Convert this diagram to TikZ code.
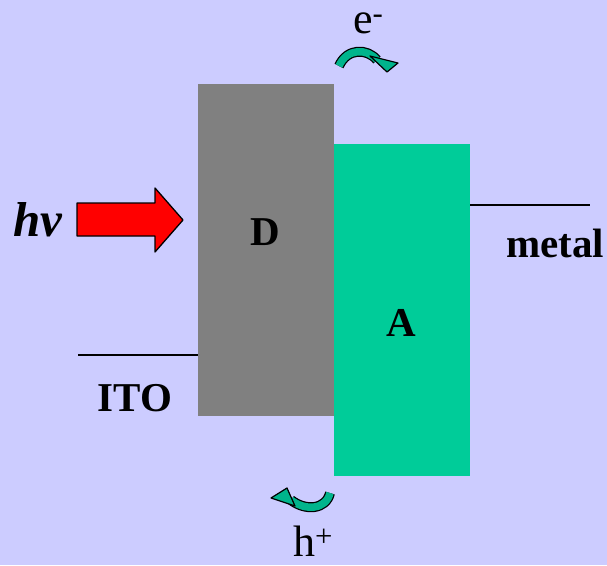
\documentclass[tikz,border=0pt]{standalone}
\usepackage{fontspec}
\setmainfont{Liberation Serif}
\definecolor{bgblue}{RGB}{204,204,255}
\definecolor{donorgray}{RGB}{128,128,128}
\definecolor{acceptgreen}{RGB}{0,204,153}
\definecolor{hopgreen}{RGB}{0,180,140}
\tikzset{
  layer/.style={rectangle,minimum width=136pt,minimum height=332pt,inner sep=0pt},
  boldlabel/.style={font=\fontsize{41}{48}\selectfont\bfseries,inner sep=0pt},
  carrier/.style={font=\fontsize{44}{50}\selectfont,inner sep=0pt,anchor=base west},
  contact/.style={line width=1.5pt},
  hopout/.style={line width=10pt,black},
  hopin/.style={line width=7.5pt,hopgreen},
  hophead/.style={fill=hopgreen,draw=black,line width=1.2pt}
}
\begin{document}
\begin{tikzpicture}[x=1pt,y=-1pt,line join=round]
  \fill[bgblue] (0,0) rectangle (607,565);
  \useasboundingbox (0,0) rectangle (607,565);
  % donor and acceptor layers
  \node[layer,fill=donorgray] (D) at (266,250) {};
  \node[layer,fill=acceptgreen] (A) at (402,310) {};
  \node[boldlabel] (Dlab) at (265,232) {D};
  \node[boldlabel] (Alab) at (401,323) {A};
  % electrodes
  \coordinate (itoL) at (78,355);
  \coordinate (metalR) at (590,205);
  \draw[contact] (itoL) -- (D.west |- itoL);
  \draw[contact] (A.east |- metalR) -- (metalR);
  \node[boldlabel] (ito) at (135,398) {ITO};
  \node[boldlabel] (metal) at (555,243) {metal};
  % light
  \node[font=\fontsize{49}{54}\selectfont\bfseries\itshape,inner sep=0pt] (hv) at (38,220) {hv};
  \draw[fill=red,line width=1.3pt] (77,203) -- (155,203) -- (155,188) -- (183,220)
    -- (155,252) -- (155,236) -- (77,236) -- cycle;
  % electron transfer
  \node[carrier] (elec) at (353,33) {e\textsuperscript{-}};
  \draw[hopout] (339,66) .. controls (347,48) and (367,48) .. (377,60);
  \draw[hopin] (339,66) .. controls (347,48) and (367,48) .. (377,60);
  \draw[hophead] (370,56) -- (398,63) -- (387,72) -- cycle;
  % hole transfer
  \node[carrier] (hole) at (293,556) {h\textsuperscript{+}};
  \draw[hopout] (330,493) .. controls (326,510) and (305,511) .. (291,500);
  \draw[hopin] (330,493) .. controls (326,510) and (305,511) .. (291,500);
  \draw[hophead] (271,498) -- (287,488) -- (295,506) -- cycle;
\end{tikzpicture}
\end{document}
